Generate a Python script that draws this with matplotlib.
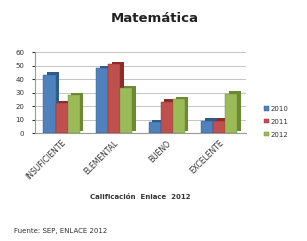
import numpy as np
import matplotlib
matplotlib.use("Agg")
import matplotlib.pyplot as plt
from matplotlib.transforms import offset_copy

categorias = ["INSUFICIENTE", "ELEMENTAL", "BUENO", "EXCELENTE"]
anios = ["2010", "2011", "2012"]
v2010 = [43, 48, 8, 9]
v2011 = [22, 51, 23, 9]
v2012 = [28, 33, 25, 29]

colores = ["#4F81BD", "#C0504D", "#9BBB59"]
oscuros = ["#2E5A8C", "#8C2D2A", "#6B8A33"]

fig = plt.figure(figsize=(3.07, 2.41), dpi=100)
ax = fig.add_axes([0.115, 0.448, 0.685, 0.336])

x = np.arange(len(categorias))
w = 0.23
series = [v2010, v2011, v2012]
for i, vals in enumerate(series):
    pos = x + (i - 1) * w
    sombra = offset_copy(ax.transData, fig=fig, x=3.5, y=2.5, units="dots")
    ax.bar(pos, vals, w, color=oscuros[i], transform=sombra, zorder=2)
    ax.bar(pos, vals, w, color=colores[i], label=anios[i], zorder=3,
           edgecolor=oscuros[i], linewidth=0.3)

ax.set_xlim(-0.5, 3.5)
ax.set_ylim(0, 60)
ax.set_yticks(range(0, 61, 10))
ax.yaxis.grid(True, color="#bbbbbb", linewidth=0.6, zorder=0)
ax.set_axisbelow(True)
for s in ["top", "right"]:
    ax.spines[s].set_visible(False)
ax.spines["left"].set_color("#999999")
ax.spines["bottom"].set_color("#999999")
ax.tick_params(axis="y", labelsize=5, length=2, colors="#333333", pad=6)
ax.tick_params(axis="x", length=0, pad=4)
ax.set_xticks(x)
ax.set_xticklabels(categorias, rotation=45, ha="right", rotation_mode="anchor",
                   fontsize=5.5, color="#333333")

ax.set_xlabel("Calificación  Enlace  2012", fontsize=5, fontweight="bold",
              color="#333333", labelpad=9)

fig.text(0.505, 0.925, "Matemática", ha="center", va="center", fontsize=9.5,
         fontweight="bold", color="#222222")

ax.legend(loc="center left", bbox_to_anchor=(1.06, 0.14), frameon=False,
          fontsize=5, handlelength=0.6, handleheight=0.6, handletextpad=0.3,
          labelspacing=1.0, labelcolor="#333333")

fig.text(0.045, 0.035, "Fuente: SEP, ENLACE 2012", fontsize=5, color="#333333")

fig.savefig("out.png", dpi=100)
